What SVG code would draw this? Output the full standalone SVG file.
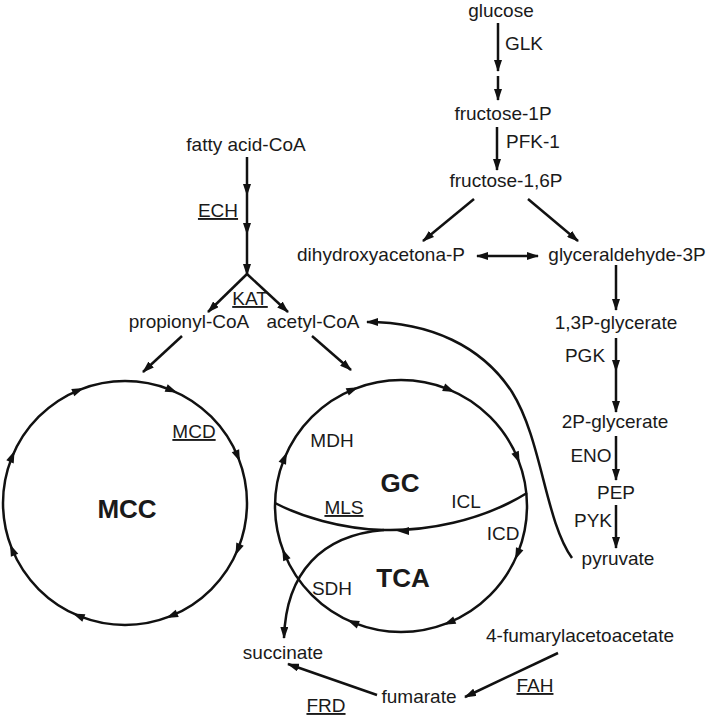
<svg xmlns="http://www.w3.org/2000/svg" xmlns:xlink="http://www.w3.org/1999/xlink" width="708" height="717" viewBox="0 0 708 717">
<defs>
<style>
text{font-family:"Liberation Sans",Arial,sans-serif;font-size:19px;fill:#1a1a1a;text-anchor:middle}
.b{font-weight:bold;font-size:26px}
.u{text-decoration:underline}
.ln{stroke:#111;stroke-width:2.5;fill:none}
.ar{marker-end:url(#ah)}
.c{stroke:#111;stroke-width:2.5;fill:none}
.ch{fill:#111}
</style>
<marker id="ah" viewBox="0 0 12 8" refX="11" refY="4" markerWidth="12" markerHeight="8" orient="auto-start-reverse" markerUnits="userSpaceOnUse"><path d="M0,0 L12,4 L0,8 z" fill="#111"/></marker>
<path id="ca" d="M0,6 L-4,-6 L4,-6 z"/>
</defs>
<rect width="708" height="717" fill="#fff"/>

<g id="connectors">
<line class="ln ar" x1="498" y1="23" x2="498" y2="71"/>
<line class="ln ar" x1="498" y1="76" x2="498" y2="100"/>
<line class="ln ar" x1="497" y1="127" x2="497" y2="170"/>
<line class="ln ar" x1="474" y1="199" x2="423" y2="241"/>
<line class="ln ar" x1="528" y1="199" x2="578" y2="241"/>
<line class="ln ar" x1="477" y1="256" x2="538" y2="256" style="marker-start:url(#ah)"/>
<line class="ln ar" x1="616" y1="265" x2="616" y2="310"/>
<line class="ln ar" x1="616" y1="338" x2="616" y2="371"/>
<line class="ln ar" x1="616" y1="371" x2="616" y2="412"/>
<line class="ln ar" x1="616" y1="436" x2="616" y2="480"/>
<line class="ln ar" x1="616" y1="505" x2="616" y2="548"/>
<line class="ln ar" x1="247" y1="157" x2="247" y2="195"/>
<line class="ln ar" x1="247" y1="195" x2="247" y2="234"/>
<line class="ln ar" x1="247" y1="234" x2="247" y2="275"/>
<line class="ln ar" x1="247" y1="274" x2="208" y2="312"/>
<line class="ln ar" x1="247" y1="274" x2="288" y2="312"/>
<line class="ln ar" x1="182" y1="336" x2="143" y2="372"/>
<line class="ln ar" x1="312" y1="336" x2="351" y2="370"/>
<path class="ln ar" d="M572,558 C545,520 542,440 512,392 C482,346 430,322 367,322"/>
<line class="ln ar" x1="558" y1="653" x2="465" y2="697"/>
<line class="ln ar" x1="377" y1="695" x2="288" y2="664"/>
</g>

<g id="MCC">
<circle class="c" cx="125" cy="503" r="122"/>
<g class="ch">
<use xlink:href="#ca" transform="translate(125 503) rotate(-67.5) translate(122 0)"/>
<use xlink:href="#ca" transform="translate(125 503) rotate(-22.5) translate(122 0)"/>
<use xlink:href="#ca" transform="translate(125 503) rotate(22.5) translate(122 0)"/>
<use xlink:href="#ca" transform="translate(125 503) rotate(67.5) translate(122 0)"/>
<use xlink:href="#ca" transform="translate(125 503) rotate(112.5) translate(122 0)"/>
<use xlink:href="#ca" transform="translate(125 503) rotate(157.5) translate(122 0)"/>
<use xlink:href="#ca" transform="translate(125 503) rotate(202.5) translate(122 0)"/>
<use xlink:href="#ca" transform="translate(125 503) rotate(247.5) translate(122 0)"/>
</g>
<text class="b" x="127" y="518">MCC</text>
<text class="u" x="194" y="438">MCD</text>
</g>

<g id="GC-TCA">
<circle class="c" cx="401" cy="506" r="126"/>
<g class="ch">
<use xlink:href="#ca" transform="translate(401 506) rotate(-67.5) translate(126 0)"/>
<use xlink:href="#ca" transform="translate(401 506) rotate(-22.5) translate(126 0)"/>
<use xlink:href="#ca" transform="translate(401 506) rotate(22.5) translate(126 0)"/>
<use xlink:href="#ca" transform="translate(401 506) rotate(67.5) translate(126 0)"/>
<use xlink:href="#ca" transform="translate(401 506) rotate(112.5) translate(126 0)"/>
<use xlink:href="#ca" transform="translate(401 506) rotate(157.5) translate(126 0)"/>
<use xlink:href="#ca" transform="translate(401 506) rotate(202.5) translate(126 0)"/>
<use xlink:href="#ca" transform="translate(401 506) rotate(247.5) translate(126 0)"/>
</g>
<path class="c" d="M527,493 C480,522 425,531 384,530 C340,529 300,516 275,503"/>
<polygon class="ch" points="397,531 409,527 409,535"/>
<path class="ln ar" d="M384,530 C322,535 286,572 284,638"/>
<text class="b" x="400" y="492">GC</text>
<text class="b" x="403" y="587">TCA</text>
<text x="332" y="447">MDH</text>
<text x="466" y="508">ICL</text>
<text class="u" x="344" y="514">MLS</text>
<text x="503" y="540">ICD</text>
<text x="332" y="595">SDH</text>
</g>

<g id="glucose"><text x="501" y="17">glucose</text></g>
<g id="GLK"><text x="524" y="50">GLK</text></g>
<g id="fructose-1P"><text x="503" y="120">fructose-1P</text></g>
<g id="PFK-1"><text x="533" y="148">PFK-1</text></g>
<g id="fructose-16P"><text x="506" y="187">fructose-1,6P</text></g>
<g id="dhap"><text x="381" y="261">dihydroxyacetona-P</text></g>
<g id="g3p"><text x="627" y="261">glyceraldehyde-3P</text></g>
<g id="bpg"><text x="616" y="329">1,3P-glycerate</text></g>
<g id="PGK"><text x="585" y="362">PGK</text></g>
<g id="pg2"><text x="615" y="428">2P-glycerate</text></g>
<g id="ENO"><text x="591" y="462">ENO</text></g>
<g id="PEP"><text x="616" y="499">PEP</text></g>
<g id="PYK"><text x="593" y="527">PYK</text></g>
<g id="pyruvate"><text x="618" y="565">pyruvate</text></g>
<g id="fatty"><text x="246" y="151">fatty acid-CoA</text></g>
<g id="ECH"><text class="u" x="218" y="217">ECH</text></g>
<g id="KAT"><text class="u" x="250" y="305">KAT</text></g>
<g id="propionyl"><text x="189" y="328">propionyl-CoA</text></g>
<g id="acetyl"><text x="313" y="328">acetyl-CoA</text></g>
<g id="succinate"><text x="283" y="659">succinate</text></g>
<g id="fumaryl"><text x="580" y="642">4-fumarylacetoacetate</text></g>
<g id="FAH"><text class="u" x="535" y="692">FAH</text></g>
<g id="fumarate"><text x="419" y="703">fumarate</text></g>
<g id="FRD"><text class="u" x="326" y="712">FRD</text></g>
</svg>
